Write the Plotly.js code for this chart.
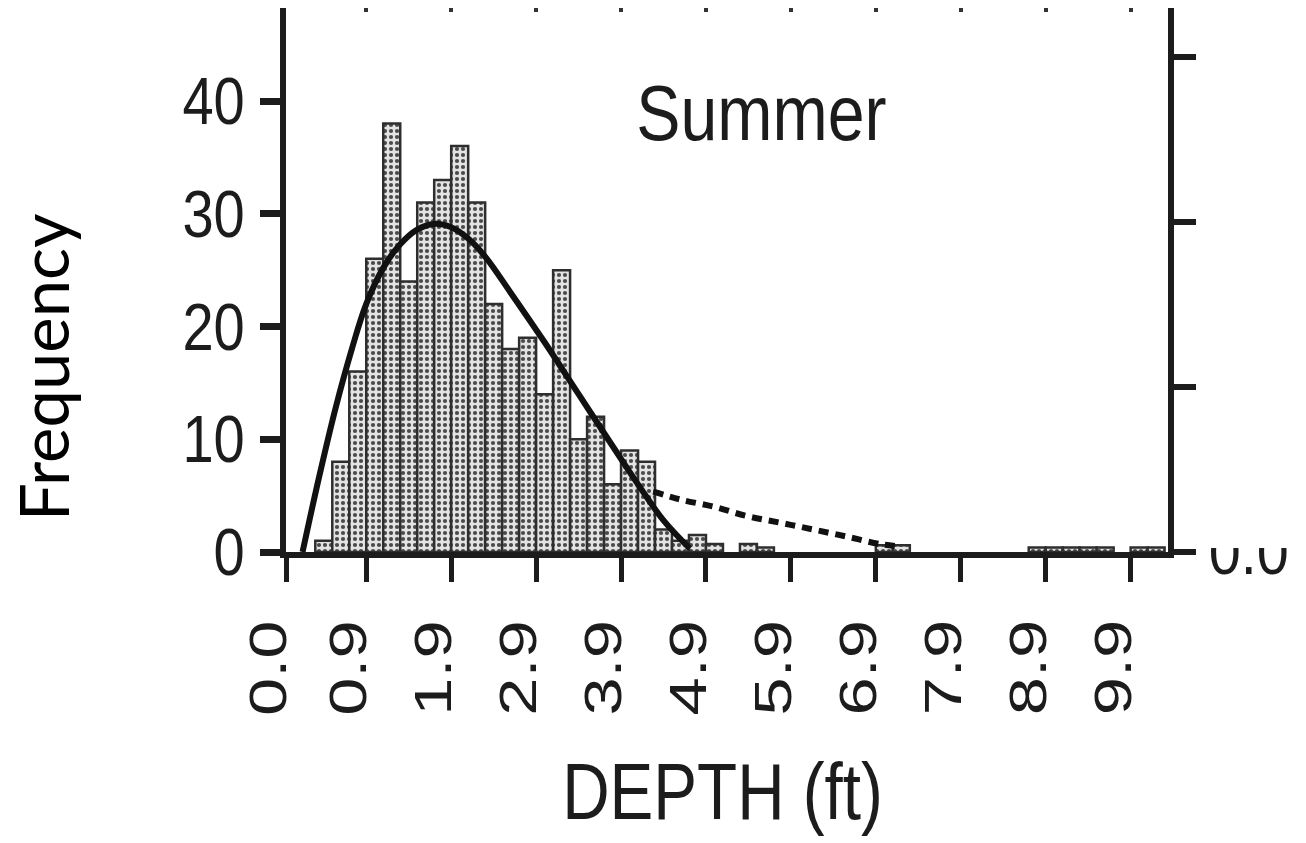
<!DOCTYPE html>
<html>
<head>
<meta charset="utf-8">
<script src="https://cdn.plot.ly/plotly-3.0.1.min.js"></script>
<style>html,body{margin:0;padding:0;background:#fff;}#chart{width:1306px;height:843px;}</style>
</head>
<body>
<div id="chart"></div>
<script>
// ---- data ----
const binCenters = [0.5, 0.7, 0.9, 1.1, 1.3, 1.5, 1.7, 1.9, 2.1, 2.3, 2.5, 2.7, 2.9, 3.1, 3.3, 3.5, 3.7, 3.9, 4.1, 4.3, 4.5, 4.7, 4.9, 5.1, 5.5, 5.7, 7.1, 7.3, 8.9, 9.1, 9.3, 9.5, 9.7, 10.1, 10.3];
const frequency  = [1, 8, 16, 26, 38, 24, 31, 33, 36, 31, 22, 18, 19, 14, 25, 10, 12, 6, 9, 8, 2, 1, 1.5, 0.7, 0.7, 0.4, 0.6, 0.6, 0.4, 0.4, 0.4, 0.4, 0.4, 0.4, 0.4];

const fitX = [0.25, 0.44, 0.64, 0.83, 1.0, 1.2, 1.4, 1.6, 1.8, 2.0, 2.2, 2.4, 2.7, 3.1, 3.5, 3.9, 4.2, 4.5, 4.81];
const fitY = [0, 6.5, 12.8, 18.0, 22.0, 25.2, 27.3, 28.6, 29.1, 28.8, 27.8, 26.2, 23.0, 18.6, 14.0, 9.4, 6.0, 2.8, 0.3];

const tailX = [4.38, 4.69, 5.09, 5.48, 5.87, 6.26, 6.66, 7.05, 7.28];
const tailY = [5.35, 4.67, 4.02, 3.19, 2.6, 2.0, 1.36, 0.7, 0.5];

const xTickVals = [0.06, 1, 2, 3, 4, 5, 6, 7, 8, 9, 10];
const xTickText = ['0.0', '0.9', '1.9', '2.9', '3.9', '4.9', '5.9', '6.9', '7.9', '8.9', '9.9'];
const yTickVals = [0, 10, 20, 30, 40];
const y2TickVals = [0, 0.1, 0.2, 0.3];
const y2TickText = ['0.0', '', '', ''];

const panelTitle = 'Summer';
const xTitle = 'DEPTH (ft)';
const yTitle = 'Frequency';

// ---- chart ----
const SANS = 'Liberation Sans, Arial, sans-serif';
const INK = '#1c1c1c';

const traces = [
  {
    type: 'bar', x: binCenters, y: frequency, width: 0.2,
    marker: {
      color: '#d8d8d8',
      line: {color: '#2e2e2e', width: 2.5},
      pattern: {shape: '.', bgcolor: '#e3e3e3', fgcolor: '#4a4a4a', size: 6, solidity: 0.38}
    },
    hoverinfo: 'x+y', showlegend: false
  },
  {
    type: 'scatter', mode: 'lines', x: fitX, y: fitY,
    line: {color: '#111', width: 6, shape: 'spline', smoothing: 1}, showlegend: false
  },
  {
    type: 'scatter', mode: 'lines', x: tailX, y: tailY,
    line: {color: '#111', width: 6, dash: '10px,7px', shape: 'spline'}, showlegend: false
  }
];

const plotL = 286, plotR = 1168, plotT = 8, plotB = 552;
const W = 1306, H = 843;
const pw = plotR - plotL, ph = plotB - plotT;
const px2paperX = p => (p - plotL) / pw;
const px2paperY = p => (plotB - p) / ph;

// horizontal stretch factor applied to each annotation's text after drawing
const stretch = [];
const annotations = [];
function addAnn(a, k) { annotations.push(a); stretch.push(k); }

addAnn({text: panelTitle, xref: 'paper', yref: 'paper', x: px2paperX(761), y: px2paperY(113),
   xanchor: 'center', yanchor: 'middle', showarrow: false, font: {family: SANS, size: 77, color: INK}}, 0.86);
addAnn({text: xTitle, xref: 'paper', yref: 'paper', x: px2paperX(722), y: px2paperY(791),
   xanchor: 'center', yanchor: 'middle', showarrow: false, font: {family: SANS, size: 80, color: INK}}, 0.82);
addAnn({text: yTitle, xref: 'paper', yref: 'paper', x: px2paperX(43), y: px2paperY(367), textangle: -90,
   xanchor: 'center', yanchor: 'middle', showarrow: false, font: {family: 'Lato, Open Sans, sans-serif', size: 67, color: '#000'}}, 1);
xTickVals.forEach((v, i) => {
  addAnn({text: xTickText[i], xref: 'x', yref: 'paper', x: v, y: px2paperY(630), xshift: -18,
    textangle: -90, xanchor: 'center', yanchor: 'top', showarrow: false,
    font: {family: SANS, size: 52, color: INK}}, 1.32);
});

const layout = {
  width: W, height: H,
  margin: {l: plotL, r: W - plotR, t: plotT, b: H - plotB, pad: 0},
  paper_bgcolor: '#fff', plot_bgcolor: '#fff',
  bargap: 0,
  showlegend: false,
  xaxis: {
    range: [0.055, 10.44], tickvals: xTickVals, ticktext: xTickText, showticklabels: false,
    ticks: 'outside', ticklen: 24, tickwidth: 5, tickcolor: INK,
    showline: true, linewidth: 6, linecolor: INK, showgrid: false, zeroline: false
  },
  xaxis2: {
    overlaying: 'x', side: 'top', anchor: 'y', matches: 'x', range: [0.055, 10.44],
    tickvals: [1, 2, 3, 4, 5, 6, 7, 8, 9, 10], showticklabels: false,
    ticks: 'inside', ticklen: 4, tickwidth: 4, tickcolor: '#333',
    showline: false, showgrid: false, zeroline: false
  },
  yaxis: {
    range: [0, 48.25], tickvals: yTickVals,
    ticks: 'outside', ticklen: 20, tickwidth: 7, tickcolor: INK, ticklabelstandoff: 2,
    tickfont: {family: SANS, size: 66, color: INK},
    showline: true, linewidth: 6, linecolor: INK, showgrid: false, zeroline: false
  },
  yaxis2: {
    overlaying: 'y', side: 'right', anchor: 'x', range: [0, 0.33],
    tickvals: y2TickVals, ticktext: y2TickText,
    ticks: 'outside', ticklen: 22, tickwidth: 6, tickcolor: INK, ticklabelstandoff: 0,
    tickfont: {family: SANS, size: 64, color: INK},
    showline: true, linewidth: 6, linecolor: INK, showgrid: false, zeroline: false
  },
  shapes: [
    {type: 'rect', xref: 'paper', yref: 'paper', layer: 'above',
     x0: px2paperX(1196), x1: px2paperX(1306), y0: px2paperY(548), y1: px2paperY(505),
     fillcolor: '#fff', line: {width: 0}}
  ],
  annotations: annotations
};

// empty trace to activate the overlay axes
traces.push({type: 'scatter', x: [1], y: [0], xaxis: 'x2', yaxis: 'y2', mode: 'markers', marker: {opacity: 0}, hoverinfo: 'skip', showlegend: false});

function squeeze(el, k) {
  if (!el || k === 1) return;
  const len = el.getComputedTextLength();
  if (len > 0) {
    el.setAttribute('textLength', (len * k).toFixed(1));
    el.setAttribute('lengthAdjust', 'spacingAndGlyphs');
  }
}

Plotly.newPlot('chart', traces, layout, {staticPlot: true, displayModeBar: false}).then(gd => {
  const annTexts = gd.querySelectorAll('.annotation-text');
  annTexts.forEach((el, i) => squeeze(el, stretch[i] || 1));
  gd.querySelectorAll('.ytick text').forEach(el => squeeze(el, 0.85));
  gd.querySelectorAll('.y2tick text').forEach(el => squeeze(el, 0.9));
});
</script>
</body>
</html>
